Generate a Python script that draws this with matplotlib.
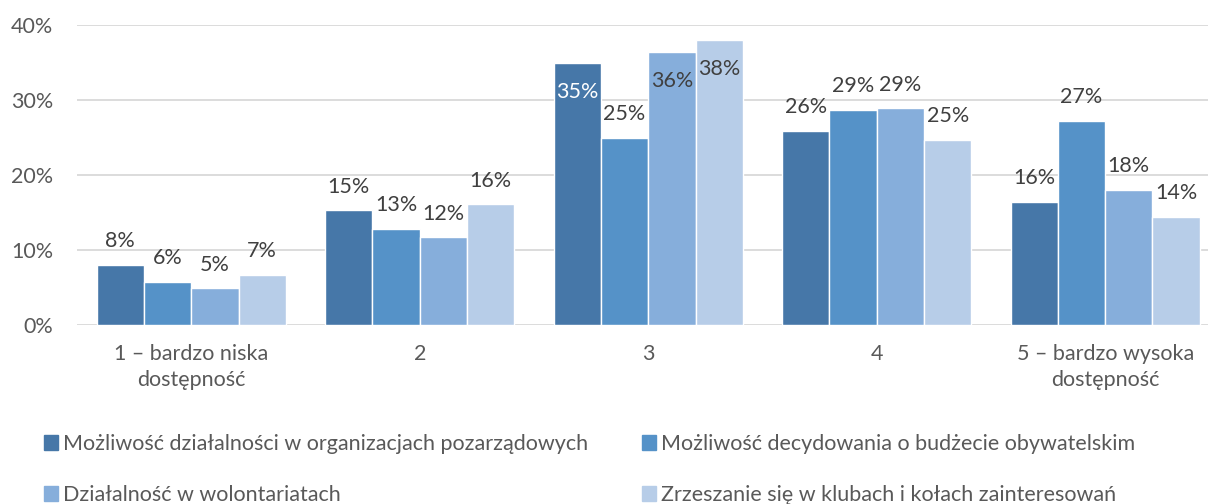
import matplotlib
matplotlib.use("Agg")
import matplotlib.pyplot as plt
import matplotlib.patches as mpatches
import numpy as np

# ─── Data ─────────────────────────────────────────────────────────────────────
categories = ["1 – bardzo niska\ndostępność", "2", "3", "4",
              "5 – bardzo wysoka\ndostępność"]
series_names = [
    "Możliwość działalności w organizacjach pozarządowych",
    "Możliwość decydowania o budżecie obywatelskim",
    "Działalność w wolontariatach",
    "Zrzeszanie się w klubach i kołach zainteresowań",
]
ngo = [8.0, 15.3, 34.9, 25.9, 16.4]
budget = [5.8, 12.8, 25.0, 28.7, 27.2]
volunteer = [4.9, 11.7, 36.4, 28.9, 18.0]
clubs = [6.7, 16.1, 38.0, 24.7, 14.4]
series = [ngo, budget, volunteer, clubs]

colors = ["#4677A8", "#5592C8", "#86AEDB", "#B7CDE8"]
text_col = "#595959"
label_col = "#404040"
FS = 15.5

plt.rcParams["font.family"] = ["Lato", "DejaVu Sans"]

fig = plt.figure(figsize=(12.08, 5.04), dpi=100)
ax = fig.add_axes([77 / 1208, 1 - 325 / 504, (1208 - 77) / 1208, 300 / 504])

x = np.arange(len(categories))
bw = 0.207
offsets = (np.arange(4) - 1.5) * bw

for i, (vals, col) in enumerate(zip(series, colors)):
    bars = ax.bar(x + offsets[i], vals, width=bw, color=col,
                  edgecolor="white", linewidth=1.0, zorder=3)
    for j, (b, v) in enumerate(zip(bars, vals)):
        cx = b.get_x() + b.get_width() / 2
        lbl = f"{round(v):.0f}%"
        # labels that would run past the top of the plot go inside the bar
        if v > 34:
            c = "white" if i == 0 else label_col
            ax.annotate(lbl, (cx, v), xytext=(0, -21), textcoords="offset points",
                        ha="center", va="center", fontsize=FS, color=c, zorder=4)
        else:
            ax.annotate(lbl, (cx, v), xytext=(0, 17), textcoords="offset points",
                        ha="center", va="center", fontsize=FS, color=label_col,
                        zorder=4)

ax.set_xlim(-0.5, 4.45)
ax.set_ylim(0, 40)
ax.set_yticks([0, 10, 20, 30, 40])
ax.set_yticklabels([f"{t}%" for t in [0, 10, 20, 30, 40]])
ax.set_xticks(x)
ax.set_xticklabels(categories, linespacing=1.35)
ax.grid(axis="y", color="#D9D9D9", linewidth=1.3, zorder=0)
ax.set_axisbelow(True)
for s in ax.spines.values():
    s.set_visible(False)
ax.tick_params(axis="both", length=0, labelsize=FS, colors=text_col)
ax.tick_params(axis="y", pad=17)
ax.tick_params(axis="x", pad=14)

# ─── Legend: two columns, placed separately ───────────────────────────────────
handles = [mpatches.Patch(color=c, label=n) for c, n in zip(colors, series_names)]
leg_kw = dict(frameon=False, fontsize=FS, handlelength=0.65, handleheight=0.65,
              handletextpad=0.25, labelspacing=1.45, labelcolor=text_col,
              borderaxespad=0, borderpad=0, loc="upper left")
fig.legend(handles=[handles[0], handles[2]], bbox_to_anchor=(44 / 1208, 1 - 434 / 504),
           **leg_kw)
fig.legend(handles=[handles[1], handles[3]], bbox_to_anchor=(642 / 1208, 1 - 434 / 504),
           **leg_kw)

fig.savefig("out.png", dpi=100)
